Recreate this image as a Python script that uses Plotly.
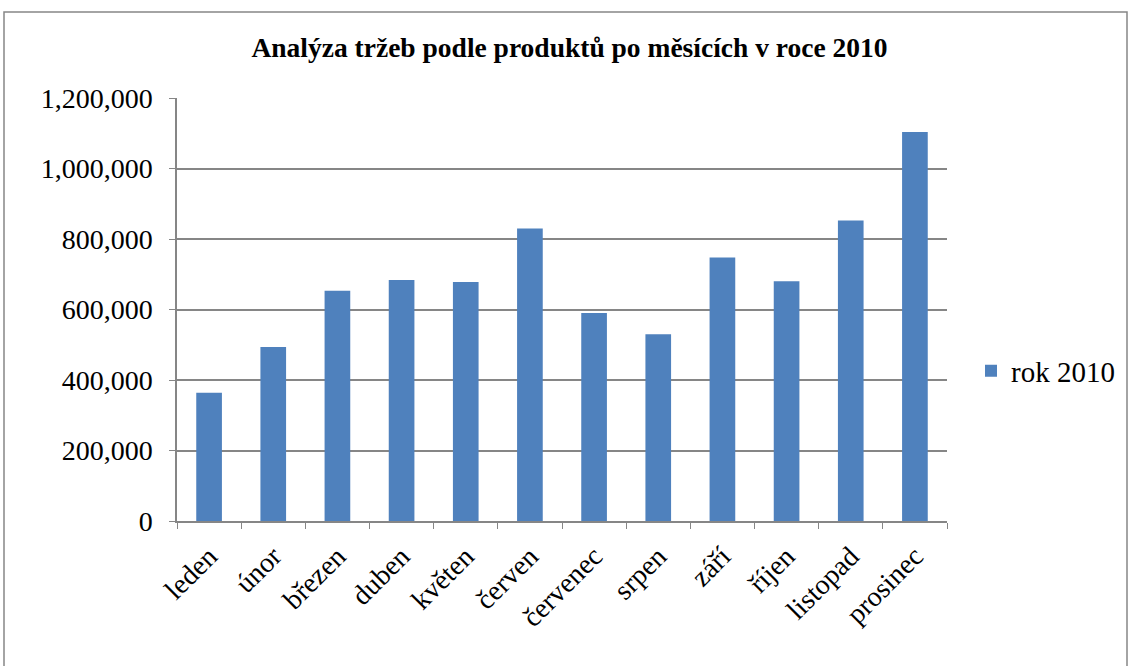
import plotly.graph_objects as go

# Monthly sales, 2010
months = ["leden", "únor", "březen", "duben", "květen", "červen",
          "červenec", "srpen", "září", "říjen", "listopad", "prosinec"]
sales_2010 = [363600, 493500, 653400, 683800, 678100, 829500,
              590000, 529500, 747200, 680100, 852300, 1103400]
series_name = "rok 2010"
chart_title = "Analýza tržeb podle produktů po měsících v roce 2010"
y_ticks = [0, 200000, 400000, 600000, 800000, 1000000, 1200000]

W, H = 1131, 666
L, R, T, B = 177, 947, 98, 521   # plot area in pixels
FONT = "Liberation Serif, Times New Roman, serif"
GRID = "#868686"


def px_x(p):
    return (p - L) / (R - L)


def px_y(p):
    return (B - p) / (B - T)


fig = go.Figure(
    go.Bar(
        x=months,
        y=sales_2010,
        name=series_name,
        marker=dict(color="#4F81BD", line=dict(width=0)),
        showlegend=True,
    )
)

fig.update_layout(
    width=W,
    height=H,
    margin=dict(l=L, r=W - R, t=T, b=H - B, autoexpand=False),
    paper_bgcolor="white",
    plot_bgcolor="white",
    bargap=0.6,
    font=dict(family=FONT, size=28, color="black"),
    title=dict(
        text="<b>" + chart_title + "</b>",
        font=dict(family=FONT, size=27.5, color="black"),
        xref="container", x=569.5 / W, xanchor="center",
        yref="container", y=1 - 47 / H, yanchor="middle",
    ),
    legend=dict(
        xref="container", x=(1011 - 40) / W, xanchor="left",
        yref="container", y=1 - 371 / H, yanchor="middle",
        font=dict(family=FONT, size=29, color="black"),
        bgcolor="rgba(0,0,0,0)",
    ),
    shapes=[
        dict(type="rect", xref="paper", yref="paper",
             x0=px_x(4), x1=px_x(1127), y0=px_y(12), y1=px_y(680),
             line=dict(color="#868686", width=1.5), layer="below"),
    ],
)

fig.update_xaxes(
    type="category",
    tickson="boundaries",
    ticks="outside",
    ticklen=6,
    tickcolor=GRID,
    showline=True,
    linecolor=GRID,
    linewidth=1.5,
    showgrid=False,
    tickangle=-45,
    tickfont=dict(family=FONT, size=28, color="black"),
    ticklabelstandoff=6,
)

fig.update_yaxes(
    range=[0, 1200000],
    tickvals=y_ticks,
    tickformat=",",
    ticks="outside",
    ticklen=6,
    tickcolor=GRID,
    showline=True,
    linecolor=GRID,
    linewidth=1.5,
    showgrid=True,
    gridcolor=GRID,
    gridwidth=1.5,
    zeroline=False,
    tickfont=dict(family=FONT, size=28, color="black"),
    ticklabelstandoff=11,
)

fig.write_html("out.html")
